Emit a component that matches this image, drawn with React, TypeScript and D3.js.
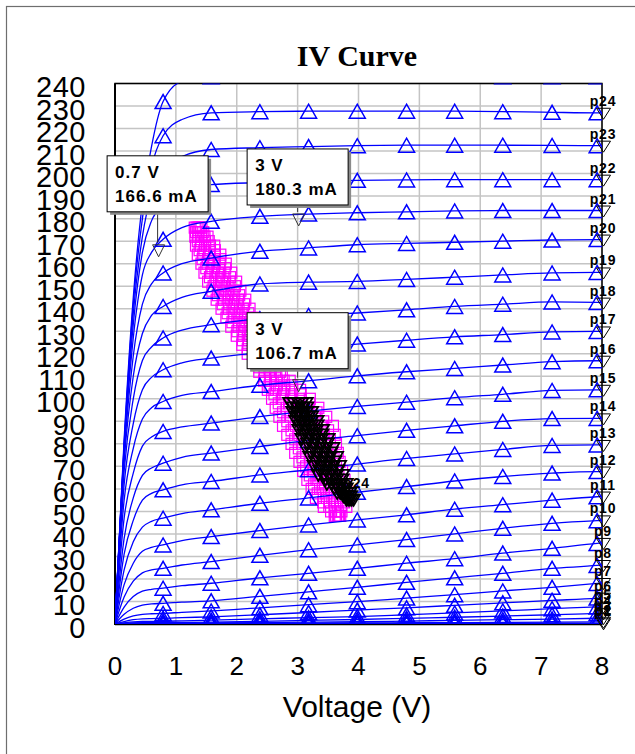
import React from 'react';
import * as d3 from 'd3';

// ---------- data ----------
const voltages = [0, 0.15, 0.3, 0.45, 0.6, 0.79, 1.1, 1.58, 2.38, 3.18, 3.98, 4.79, 5.58, 6.37, 7.18, 7.92, 8.0];
const markerVoltages = [0.79, 1.58, 2.38, 3.18, 3.98, 4.79, 5.58, 6.37, 7.18, 7.92];

const curveNames = ['', 'p24', 'p23', 'p22', 'p21', 'p20', 'p19', 'p18', 'p17', 'p16', 'p15', 'p14', 'p13', 'p12', 'p11', 'p10', 'p9', 'p8', 'p7', 'p6', 'p5', 'p4', 'p3', 'p2', 'p1'];

const curveTop = [0, 82, 145, 187, 212, 232, 241, 243, 246, 247, 247, 246, 245, 243, 243, 243, 243];
const curveP24 = [0, 80, 142, 180, 203, 216.8, 224, 227, 227.5, 227.7, 227.7, 227.7, 227.7, 227.5, 227.2, 227, 227];
const curveP23 = [0, 79, 138, 172, 191, 201, 207.5, 210.7, 211.5, 212, 212.4, 212.6, 212.6, 212.6, 212.5, 212.4, 212.4];
const curveP22 = [0, 78, 133, 165, 179, 186, 192, 195.1, 196, 196.6, 197, 197.2, 197.3, 197.3, 197.3, 197.3, 197.3];
const curveP21 = [0, 77, 127, 155, 165, 170.8, 176, 178.8, 181, 182, 182.6, 183, 183.4, 183.6, 183.6, 183.6, 183.6];
const curveP20 = [0, 75, 119, 142, 151, 155.9, 160, 162.5, 165.5, 167, 168.4, 169, 169.5, 170, 170.5, 170.7, 170.7];
const curveP19 = [0, 72, 110, 129, 137, 141, 145, 147.7, 151, 151.8, 152.1, 153, 154, 155, 155.9, 156.1, 156.1];
const curveP18 = [0, 68, 100, 117, 123, 127, 130.5, 132.9, 135.5, 137, 138.1, 139.5, 141, 142, 143, 142.8, 142.7];
const curveP17 = [0, 62, 89, 104, 109.5, 112.9, 116, 118.1, 120.5, 122.5, 124.3, 126, 127.5, 128.5, 129.7, 129.9, 129.9];
const curveP16 = [0, 55, 78, 91, 96, 98.8, 101.5, 103.2, 106, 108, 110.2, 112, 113.5, 115, 116.5, 116.9, 116.9];
const curveP15 = [0, 47, 67, 79, 83, 85.5, 87.5, 89.2, 92.1, 94.5, 96.6, 98.5, 100.5, 102, 103.7, 104, 104];
const curveP14 = [0, 38, 56, 66, 69.3, 71.4, 74, 75.9, 78.8, 81.5, 83.6, 86, 88, 90, 91.2, 91.3, 91.3];
const curveP13 = [0, 31, 46, 55, 58, 59.6, 61.8, 63.3, 66.2, 68.5, 71, 73.5, 75.5, 77.5, 79.3, 79.5, 79.5];
const curveP12 = [0, 24, 36.5, 43, 45.6, 47, 49, 50.7, 53.6, 56, 58.5, 61, 63.5, 65.5, 67, 67.7, 67.7];
const curveP11 = [0, 17.5, 27, 32.3, 34, 35.1, 37, 38.8, 41.5, 44, 46.2, 48.5, 51, 53, 55, 56.5, 56.6];
const curveP10 = [0, 12, 19, 22.7, 24, 24.7, 26.2, 27.7, 30.5, 33, 35.1, 37.5, 40, 42.5, 44.7, 45.9, 46];
const curveP9 = [0, 7.5, 12.2, 14.6, 15.4, 15.9, 17, 18.1, 20.5, 22.5, 24.7, 27, 29, 31.5, 33.6, 35.8, 36];
const curveP8 = [0, 4.3, 7, 8.4, 8.9, 9.2, 9.7, 10.3, 12.3, 14.3, 16.3, 18.5, 20.5, 22.5, 24.7, 26, 26.2];
const curveP7 = [0, 2.2, 3.6, 4.3, 4.55, 4.7, 5.2, 5.8, 7.2, 8.6, 9.9, 11.5, 13, 14.7, 16.3, 18, 18.2];
const curveP6 = [0, 1.1, 1.9, 2.3, 2.42, 2.5, 2.8, 3.2, 4.1, 5.1, 6.2, 7.2, 8.3, 9.4, 10.5, 11.5, 11.7];
const curveP5 = [0, 0.5, 0.9, 1.1, 1.16, 1.2, 1.4, 1.7, 2.3, 2.8, 3.3, 4.1, 4.9, 5.8, 6.8, 7.6, 7.7];
const curveP4 = [0, 0.25, 0.45, 0.55, 0.58, 0.6, 0.7, 0.85, 1.2, 1.6, 2, 2.5, 3, 3.5, 4.1, 4.7, 4.8];
const curveP3 = [0, 0.12, 0.22, 0.27, 0.29, 0.3, 0.35, 0.45, 0.6, 0.8, 1, 1.3, 1.6, 1.9, 2.2, 2.55, 2.6];
const curveP2 = [0, 0.06, 0.11, 0.14, 0.145, 0.15, 0.18, 0.22, 0.3, 0.37, 0.45, 0.55, 0.65, 0.75, 0.85, 0.98, 1];
const curveP1 = [0, 0.02, 0.04, 0.045, 0.05, 0.05, 0.06, 0.08, 0.1, 0.13, 0.15, 0.18, 0.21, 0.24, 0.27, 0.3, 0.3];

const curveValues = [curveTop, curveP24, curveP23, curveP22, curveP21, curveP20, curveP19, curveP18, curveP17, curveP16, curveP15, curveP14, curveP13, curveP12, curveP11, curveP10, curveP9, curveP8, curveP7, curveP6, curveP5, curveP4, curveP3, curveP2, curveP1];

// magenta (squares): current rows and voltage tracks
const magentaCurrents = [176, 172, 168, 164, 160, 156, 152, 148, 144, 140, 136, 132, 128, 124, 120, 116, 112, 108, 104, 100, 96, 92, 88, 84, 80, 76, 72, 68, 64, 60, 56, 52, 48];
const magentaTrackA = [1.31, 1.32, 1.33, 1.36, 1.42, 1.47, 1.53, 1.60, 1.67, 1.75, 1.83, 1.91, 2.00, 2.09, 2.18, 2.28, 2.37, 2.45, 2.51, 2.58, 2.64, 2.70, 2.76, 2.83, 2.90, 2.96, 3.03, 3.09, 3.16, 3.23, 3.30, 3.43, 3.61];
const magentaTrackB = [1.34, 1.37, 1.41, 1.45, 1.52, 1.58, 1.65, 1.72, 1.79, 1.87, 1.95, 2.03, 2.11, 2.19, 2.28, 2.37, 2.46, 2.56, 2.64, 2.74, 2.82, 2.89, 2.97, 3.03, 3.08, 3.14, 3.20, 3.25, 3.31, 3.37, 3.43, 3.52, 3.63];
const magentaTrackC = [1.37, 1.42, 1.48, 1.55, 1.62, 1.69, 1.76, 1.83, 1.91, 1.98, 2.06, 2.14, 2.22, 2.29, 2.38, 2.46, 2.54, 2.66, 2.78, 2.89, 2.99, 3.09, 3.17, 3.22, 3.27, 3.31, 3.36, 3.41, 3.47, 3.52, 3.57, 3.62, 3.66];
const magentaTrackD = [1.39, 1.47, 1.56, 1.64, 1.72, 1.80, 1.88, 1.95, 2.02, 2.10, 2.18, 2.26, 2.32, 2.39, 2.47, 2.55, 2.63, 2.77, 2.91, 3.05, 3.17, 3.28, 3.38, 3.42, 3.45, 3.49, 3.53, 3.57, 3.62, 3.66, 3.70, 3.71, 3.68];
const magentaTrackE = [1.42, 1.52, 1.63, 1.73, 1.82, 1.91, 1.99, 2.06, 2.14, 2.21, 2.29, 2.37, 2.43, 2.49, 2.57, 2.64, 2.71, 2.87, 3.04, 3.20, 3.34, 3.47, 3.58, 3.61, 3.63, 3.66, 3.69, 3.73, 3.77, 3.80, 3.83, 3.80, 3.70];
const magentaTracks = [magentaTrackA, magentaTrackB, magentaTrackC, magentaTrackD, magentaTrackE];

const magentaCurrents2 = [174, 170, 166, 162, 158, 154, 150, 146, 142, 138, 134, 130, 126, 122, 118, 114, 110, 106, 102, 98, 94, 90, 86, 82, 78, 74, 70, 66, 62, 58, 54, 50];
const magentaTrackF = [1.33, 1.36, 1.39, 1.44, 1.50, 1.56, 1.62, 1.69, 1.77, 1.85, 1.93, 2.01, 2.10, 2.18, 2.28, 2.37, 2.46, 2.54, 2.62, 2.69, 2.76, 2.83, 2.90, 2.96, 3.02, 3.08, 3.14, 3.20, 3.27, 3.33, 3.42, 3.55];
const magentaTrackG = [1.37, 1.42, 1.47, 1.53, 1.60, 1.67, 1.74, 1.81, 1.88, 1.96, 2.04, 2.12, 2.20, 2.28, 2.37, 2.46, 2.55, 2.66, 2.76, 2.86, 2.95, 3.03, 3.10, 3.15, 3.20, 3.25, 3.30, 3.36, 3.42, 3.47, 3.53, 3.61];
const magentaTrackH = [1.41, 1.48, 1.55, 1.63, 1.71, 1.78, 1.85, 1.93, 2.00, 2.08, 2.16, 2.23, 2.30, 2.38, 2.46, 2.54, 2.65, 2.78, 2.90, 3.02, 3.13, 3.23, 3.30, 3.34, 3.38, 3.42, 3.47, 3.52, 3.56, 3.61, 3.65, 3.66];
const magentaTrackI = [1.45, 1.54, 1.64, 1.73, 1.81, 1.89, 1.97, 2.04, 2.12, 2.19, 2.27, 2.34, 2.41, 2.48, 2.56, 2.63, 2.74, 2.90, 3.05, 3.19, 3.31, 3.42, 3.50, 3.53, 3.56, 3.59, 3.63, 3.67, 3.71, 3.75, 3.76, 3.72];
const magentaTracks2 = [magentaTrackF, magentaTrackG, magentaTrackH, magentaTrackI];

// black (inverted triangles)
const blackCurrents = [98, 94, 90, 86, 82, 78, 74, 70, 66, 62, 58, 55];
const blackTrackA = [2.87, 2.92, 2.97, 3.02, 3.07, 3.13, 3.20, 3.27, 3.34, 3.48, 3.65, 3.80];
const blackTrackB = [2.94, 3.00, 3.06, 3.12, 3.18, 3.25, 3.31, 3.38, 3.44, 3.56, 3.70, 3.83];
const blackTrackC = [3.01, 3.08, 3.15, 3.22, 3.29, 3.36, 3.42, 3.48, 3.54, 3.64, 3.76, 3.86];
const blackTrackD = [3.07, 3.15, 3.23, 3.31, 3.39, 3.47, 3.53, 3.59, 3.64, 3.72, 3.81, 3.89];
const blackTrackE = [3.14, 3.23, 3.32, 3.41, 3.50, 3.58, 3.64, 3.69, 3.74, 3.80, 3.86, 3.92];
const blackTracks = [blackTrackA, blackTrackB, blackTrackC, blackTrackD, blackTrackE];

const blackCurrents2 = [96, 92, 88, 84, 80, 76, 72, 68, 64, 60, 56.5];
const blackTrackF = [2.93, 2.99, 3.04, 3.10, 3.16, 3.22, 3.29, 3.36, 3.46, 3.60, 3.75];
const blackTrackG = [3.00, 3.07, 3.13, 3.20, 3.27, 3.33, 3.40, 3.46, 3.55, 3.66, 3.79];
const blackTrackH = [3.07, 3.15, 3.23, 3.30, 3.38, 3.44, 3.50, 3.56, 3.64, 3.73, 3.83];
const blackTrackI = [3.15, 3.23, 3.32, 3.40, 3.49, 3.55, 3.61, 3.66, 3.73, 3.80, 3.87];
const blackTracks2 = [blackTrackF, blackTrackG, blackTrackH, blackTrackI];
const blackLabel = 'p24';

// annotations
const annotVoltages = [0.7, 3, 3];
const annotCurrents = [166.6, 180.3, 106.7];
const annotLine1 = ['0.7 V', '3 V', '3 V'];
const annotLine2 = ['166.6 mA', '180.3 mA', '106.7 mA'];

// ticks
const xTicks = [0, 1, 2, 3, 4, 5, 6, 7, 8];
const yTicks = [0, 10, 20, 30, 40, 50, 60, 70, 80, 90, 100, 110, 120, 130, 140, 150, 160, 170, 180, 190, 200, 210, 220, 230, 240];

const title = 'IV Curve';
const xTitle = 'Voltage (V)';

// ---------- layout ----------
const W = 635;
const H = 754;
const annotBoxTop = [-93, -69, -71];
const BOX_W = 101;
const BOX_H = 56;

const SANS = '"Liberation Sans", Arial, sans-serif';
const SERIF = '"Liberation Serif", "Times New Roman", serif';

function upTri(cx: number, cy: number, w = 16, h = 14) {
  return `M${cx - w / 2},${cy + h / 2}L${cx + w / 2},${cy + h / 2}L${cx},${cy - h / 2}Z`;
}
function downTri(cx: number, cy: number, w = 14, h = 11) {
  return `M${cx - w / 2},${cy - h / 2}L${cx + w / 2},${cy - h / 2}L${cx},${cy + h / 2}Z`;
}

export default function App() {
  const x = d3.scaleLinear().domain([0, 8]).range([115, 602]);
  const y = d3.scaleLinear().domain([0, 240]).range([624, 83.5]);
  const line = d3
    .line<[number, number]>()
    .x((d) => x(d[0]))
    .y((d) => y(d[1]))
    .curve(d3.curveMonotoneX);

  const [x0, x1] = x.range();
  const [y0, y1] = y.range();

  const magentaPts: [number, number][] = [];
  magentaTracks.forEach((t) => t.forEach((v, k) => magentaPts.push([v, magentaCurrents[k]])));
  magentaTracks2.forEach((t) => t.forEach((v, k) => magentaPts.push([v, magentaCurrents2[k]])));
  const blackPts: [number, number][] = [];
  blackTracks.forEach((t) => t.forEach((v, k) => blackPts.push([v, blackCurrents[k]])));
  blackTracks2.forEach((t) => t.forEach((v, k) => blackPts.push([v, blackCurrents2[k]])));

  return (
    <svg
      width={W}
      height={H}
      style={{ position: 'absolute', left: 0, top: 0, background: '#fff' }}
      xmlns="http://www.w3.org/2000/svg"
    >
      <defs>
        <clipPath id="plotClip">
          <rect x={x0} y={y1} width={x1 - x0} height={y0 - y1} />
        </clipPath>
      </defs>
      <rect x={0} y={0} width={W} height={H} fill="#fff" />
      <rect x={6.5} y={6.5} width={W + 20} height={H + 20} fill="none" stroke="#6e6e6e" strokeWidth={1.2} />

      <text x={357} y={66} textAnchor="middle" fontFamily={SERIF} fontWeight="bold" fontSize={30}>
        {title}
      </text>

      {/* grid */}
      <g stroke="#c4c4c4" strokeWidth={1.5}>
        {xTicks.map((t) => (
          <line key={'gx' + t} x1={x(t)} x2={x(t)} y1={y0} y2={y1} />
        ))}
        {yTicks.map((t) => (
          <line key={'gy' + t} x1={x0} x2={x1} y1={y(t)} y2={y(t)} />
        ))}
      </g>

      {/* plot frame */}
      <rect x={x0} y={y1} width={x1 - x0} height={y0 - y1} fill="none" stroke="#000" strokeWidth={1.5} />
      <line x1={x0} x2={x0} y1={y1} y2={y0 + 1} stroke="#000" strokeWidth={2} />
      <line x1={x0} x2={x1} y1={y0} y2={y0} stroke="#000" strokeWidth={2.5} />

      {/* magenta squares */}
      <g clipPath="url(#plotClip)" fill="none" stroke="#ff00ff" strokeWidth={1.2}>
        {magentaPts.map((p, k) => (
          <rect key={'m' + k} x={x(p[0]) - 5.5} y={y(p[1]) - 5.5} width={11} height={11} />
        ))}
      </g>

      {/* blue curves */}
      <g clipPath="url(#plotClip)">
        {curveValues.map((vals, ci) => (
          <path
            key={'c' + ci}
            d={line(voltages.map((v, k) => [v, vals[k]] as [number, number])) || ''}
            fill="none"
            stroke="#0000ff"
            strokeWidth={1.3}
          />
        ))}
        {curveValues.map((vals, ci) =>
          voltages.map((v, k) =>
            markerVoltages.includes(v) ? (
              <path key={`t${ci}-${k}`} d={upTri(x(v), y(vals[k]))} fill="none" stroke="#0000ff" strokeWidth={1.5} />
            ) : null
          )
        )}
      </g>

      {/* end markers and labels */}
      {curveValues.map((vals, ci) =>
        curveNames[ci] ? (
          <g key={'e' + ci}>
            <text
              x={x(8) + 1}
              y={y(vals[vals.length - 1]) - 7}
              textAnchor="middle"
              fontFamily={SANS}
              fontWeight="bold"
              fontSize={14}
              letterSpacing={0.8}
            >
              {curveNames[ci]}
            </text>
            <path d={downTri(x(8) + 1.5, y(vals[vals.length - 1]) + 1)} fill="none" stroke="#000" strokeWidth={1} />
          </g>
        ) : null
      )}

      {/* black cluster */}
      <text
        x={x(blackTrackE[blackTrackE.length - 1]) + 3}
        y={y(blackCurrents[blackCurrents.length - 1]) - 12}
        textAnchor="middle"
        fontFamily={SANS}
        fontWeight="bold"
        fontSize={14}
        letterSpacing={0.8}
      >
        {blackLabel}
      </text>
      <g fill="none" stroke="#000" strokeWidth={1.8}>
        {blackPts.map((p, k) => (
          <path key={'b' + k} d={downTri(x(p[0]), y(p[1]), 13, 11)} />
        ))}
      </g>

      {/* annotations */}
      {annotVoltages.map((v, i) => {
        const px = x(v);
        const py = y(annotCurrents[i]);
        const bx = px - BOX_W / 2;
        const by = py + annotBoxTop[i];
        return (
          <g key={'a' + i}>
            <line x1={px} x2={px} y1={by + BOX_H} y2={py - 6} stroke="#333" strokeWidth={1} />
            <path d={downTri(px + 1, py + 2, 12, 12)} fill="none" stroke="#333" strokeWidth={1} />
            <rect x={bx + 3} y={by + 3} width={BOX_W} height={BOX_H} fill="#8a8a8a" />
            <rect x={bx} y={by} width={BOX_W} height={BOX_H} fill="#fff" stroke="#000" strokeWidth={1} />
            <text x={bx + 8} y={by + 22} fontFamily={SANS} fontWeight="bold" fontSize={17} letterSpacing={1}>
              {annotLine1[i]}
            </text>
            <text x={bx + 8} y={by + 46} fontFamily={SANS} fontWeight="bold" fontSize={17} letterSpacing={1}>
              {annotLine2[i]}
            </text>
          </g>
        );
      })}

      {/* axis labels */}
      {yTicks.map((t) => (
        <text key={'yl' + t} x={86} y={y(t) + 13.5} textAnchor="end" fontFamily={SANS} fontSize={29} letterSpacing={0.5}>
          {t}
        </text>
      ))}
      {xTicks.map((t) => (
        <text key={'xl' + t} x={x(t)} y={675} textAnchor="middle" fontFamily={SANS} fontSize={26}>
          {t}
        </text>
      ))}
      <text x={357} y={717} textAnchor="middle" fontFamily={SANS} fontSize={30}>
        {xTitle}
      </text>
    </svg>
  );
}
